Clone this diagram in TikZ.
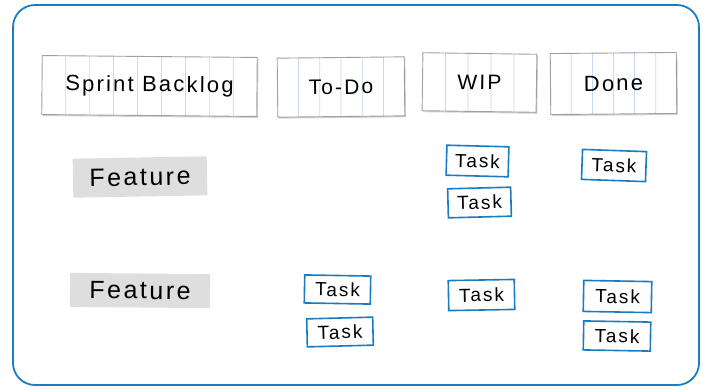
\documentclass[tikz,border=0pt]{standalone}
\usepackage{fontspec}
\newfontfamily\hand{Liberation Sans}[LetterSpace=10]
\usetikzlibrary{shadows,calc}
\definecolor{frameblue}{HTML}{1B7CC4}
\definecolor{taskblue}{HTML}{1B7BC2}
\definecolor{featgray}{HTML}{DEDEDF}
\definecolor{paperline}{HTML}{C4DAEE}
\tikzset{
  card/.style={draw=gray!75, line width=0.9pt, fill=white, inner sep=0pt,
    drop shadow={opacity=0.35, shadow xshift=1.2pt, shadow yshift=-1.5pt},
    font=\hand\fontsize{21}{21}\selectfont,
    path picture={
      \foreach \i in {1,...,#1}{
        \draw[paperline, line width=0.7pt]
          ($(path picture bounding box.south west)!\i/(#1+1)!(path picture bounding box.south east)$) --
          ($(path picture bounding box.north west)!\i/(#1+1)!(path picture bounding box.north east)$);
      }
    }},
  card/.default=5,
  feature/.style={fill=featgray, inner sep=0pt,
    font=\hand\fontsize{25}{25}\selectfont},
  task/.style={draw=taskblue, line width=1.6pt, fill=white, inner sep=0pt,
    font=\hand\fontsize{19}{19}\selectfont},
  frame/.style={draw=frameblue, line width=1.8pt, rounded corners=22pt}
}
\begin{document}
\begin{tikzpicture}[x=1pt,y=-1pt]
\useasboundingbox (0,0) rectangle (706,389);
\node[frame, minimum width=686pt, minimum height=380pt] (board) at (356,195) {};
% header cards
\node[card=8, minimum width=215pt, minimum height=59pt, rotate=-0.5, font=\hand\fontsize{22}{22}\selectfont] (backlog) at (149.5,86) {Sprint Backlog};
\node[card=5, minimum width=127pt, minimum height=59pt, rotate=0.6] (todo) at (341,87) {To-Do};
\node[card=4, minimum width=114pt, minimum height=58pt, rotate=-0.8] (wip) at (479.5,82.5) {WIP};
\node[card=5, minimum width=126pt, minimum height=61pt, rotate=0.5, font=\hand\fontsize{22}{22}\selectfont] (done) at (613.5,83.5) {Done};
% features
\node[feature, minimum width=134pt, minimum height=39pt, rotate=1] (f1) at (140,177) {Feature};
\node[feature, minimum width=140pt, minimum height=34pt, rotate=-0.5] (f2) at (140,290.5) {Feature};
% tasks
\node[task, minimum width=62pt, minimum height=30pt, rotate=-1.5] (w1) at (477.5,161) {Task};
\node[task, minimum width=63pt, minimum height=29pt, rotate=1.5] (w2) at (479.5,202.5) {Task};
\node[task, minimum width=64pt, minimum height=30pt, rotate=-2] (d1) at (614,165.5) {Task};
\node[task, minimum width=66pt, minimum height=28pt, rotate=-1] (t1) at (337.5,289.5) {Task};
\node[task, minimum width=66pt, minimum height=28pt, rotate=1.5] (t2) at (340,332) {Task};
\node[task, minimum width=66pt, minimum height=30pt, rotate=1] (w3) at (481.5,295) {Task};
\node[task, minimum width=68pt, minimum height=31pt, rotate=-1] (d2) at (617.5,296.5) {Task};
\node[task, minimum width=67pt, minimum height=29pt, rotate=-1] (d3) at (617,336) {Task};
\end{tikzpicture}
\end{document}
